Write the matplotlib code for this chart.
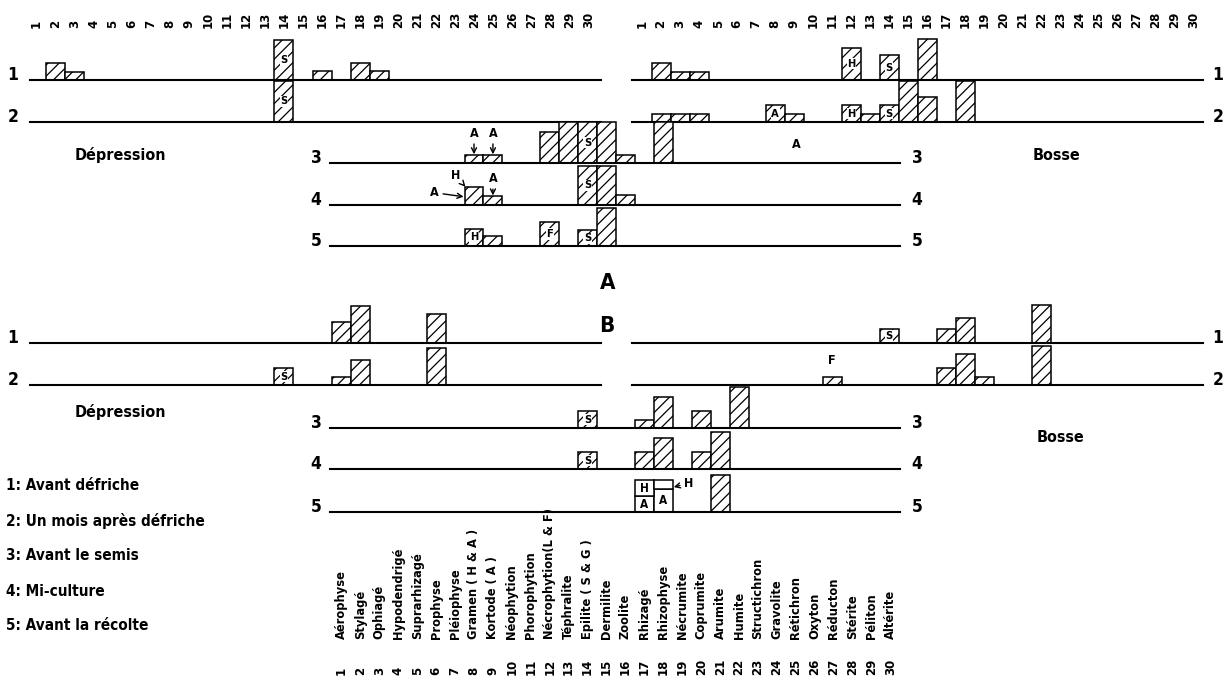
import matplotlib
matplotlib.use("Agg")
import matplotlib.pyplot as plt
from matplotlib import transforms

# noms des formes (axe du bas)
names = ["Aérophyse", "Stylagé", "Ophiagé", "Hypodendrigé", "Suprarhizagé",
         "Prophyse", "Pléiophyse", "Gramen ( H & A )", "Kortode ( A )", "Néophytion",
         "Phorophytion", "Nécrophytion(L & F)", "Téphralite", "Epilite ( S & G )", "Dermilite",
         "Zoolite", "Rhizagé", "Rhizophyse", "Nécrumite", "Coprumite",
         "Arumite", "Humite", "Structichron", "Gravolite", "Rétichron",
         "Oxyton", "Réducton", "Stérite", "Péliton", "Altérite"]
cols = list(range(1, 31))

legend_lines = ["1: Avant défriche", "2: Un mois après défriche", "3: Avant le semis",
                "4: Mi-culture", "5: Avant la récolte"]

# --- panneau A ---
a1_dep_cols = [2, 3, 14, 16, 18, 19]
a1_dep_vals = [2, 1, 4.8, 1.1, 2.1, 1.1]
a1_dep_marks = {14: "S"}
a2_dep_cols = [14]
a2_dep_vals = [5]
a2_dep_marks = {14: "S"}
a1_bos_cols = [2, 3, 4, 12, 14, 16]
a1_bos_vals = [2, 1, 1, 3.9, 3, 5]
a1_bos_marks = {12: "H", 14: "S"}
a2_bos_cols = [2, 3, 4, 8, 9, 12, 13, 14, 15, 16, 18]
a2_bos_vals = [1, 1, 1, 2, 1, 2, 1, 2, 5, 3, 5]
a2_bos_marks = {8: "A", 12: "H", 14: "S"}
a3_cols = [8, 9, 12, 13, 14, 15, 16, 18]
a3_vals = [1, 1, 3.7, 4.9, 4.9, 4.9, 1, 5]
a3_marks = {14: "S"}
a4_cols = [8, 9, 14, 15, 16]
a4_vals = [2.2, 1.1, 4.7, 4.7, 1.2]
a4_marks = {14: "S"}
a5_cols = [8, 9, 12, 14, 15]
a5_vals = [2.1, 1.2, 2.9, 1.9, 4.6]
a5_marks = {8: "H", 12: "F", 14: "S"}

# --- panneau B ---
b1_dep_cols = [17, 18, 22]
b1_dep_vals = [2.5, 4.5, 3.5]
b2_dep_cols = [14, 17, 18, 22]
b2_dep_vals = [2, 1, 3, 4.5]
b2_dep_marks = {14: "S"}
b1_bos_cols = [14, 17, 18, 22]
b1_bos_vals = [1.7, 1.7, 3, 4.6]
b1_bos_marks = {14: "S"}
b2_bos_cols = [11, 17, 18, 19, 22]
b2_bos_vals = [1, 2, 3.7, 1, 4.7]
b3_cols = [14, 17, 18, 20, 22]
b3_vals = [2, 1, 3.7, 2, 4.9]
b3_marks = {14: "S"}
b4_cols = [14, 17, 18, 20, 21]
b4_vals = [2, 2, 3.7, 2, 4.5]
b4_marks = {14: "S"}
b5_cols = [21]
b5_vals = [4.5]
b5_box_cols = [17, 18]
b5_box_low = [1.9, 2.8]
b5_box_high = [1.9, 1.0]
b5_box_low_txt = ["A", "A"]
b5_box_high_txt = ["H", ""]

W, H = 1232, 684
plt.rcParams["font.family"] = ["DejaVu Sans"]
plt.rcParams["hatch.linewidth"] = 0.9
fig = plt.figure(figsize=(W / 100, H / 100), dpi=100)

ov = fig.add_axes([0, 0, 1, 1])
ov.set_xlim(0, W)
ov.set_ylim(H, 0)
ov.axis("off")

ROW = 41.5  # hauteur d'une bande = 5 unites
LEFT = (27, 598)
RIGHT = (632.5, 1203)
MID = (332, 900)
BOLD = dict(fontweight="heavy", fontstretch="condensed")


def strip(span, base, line=(0.65, 30.65)):
    x0, x1 = span
    ax = fig.add_axes([x0 / W, 1 - base / H, (x1 - x0) / W, ROW / H])
    ax.set_xlim(0.5, 30.5)
    ax.set_ylim(0, 5)
    ax.axis("off")
    ax.plot(line, [0, 0], color="black", lw=1.5, clip_on=False)
    return ax


def bars(ax, c, v, marks=None):
    ax.bar(c, v, width=1, color="white", edgecolor="black", hatch="///",
           linewidth=1.1, clip_on=False)
    for k, m in (marks or {}).items():
        val = v[c.index(k)]
        ax.text(k, val / 2, m, ha="center", va="center", fontsize=8, color="black",
                bbox=dict(fc="white", ec="none", pad=0.4), **BOLD)


def row_label(x, base, txt):
    ov.text(x, base - 5, txt, ha="center", va="center", fontsize=12.5, **BOLD)


# panneau A
axA1L = strip(LEFT, 80)
bars(axA1L, a1_dep_cols, a1_dep_vals, a1_dep_marks)
axA2L = strip(LEFT, 122)
bars(axA2L, a2_dep_cols, a2_dep_vals, a2_dep_marks)
axA1R = strip(RIGHT, 80, (0.5, 30.5))
bars(axA1R, a1_bos_cols, a1_bos_vals, a1_bos_marks)
axA2R = strip(RIGHT, 122, (0.5, 30.5))
bars(axA2R, a2_bos_cols, a2_bos_vals, a2_bos_marks)
axA3 = strip(MID, 163, (0.4, 30.5))
bars(axA3, a3_cols, a3_vals, a3_marks)
axA4 = strip(MID, 205, (0.4, 30.5))
bars(axA4, a4_cols, a4_vals, a4_marks)
axA5 = strip(MID, 246, (0.4, 30.5))
bars(axA5, a5_cols, a5_vals, a5_marks)

# panneau B
axB1L = strip(LEFT, 343)
bars(axB1L, b1_dep_cols, b1_dep_vals)
axB2L = strip(LEFT, 385)
bars(axB2L, b2_dep_cols, b2_dep_vals, b2_dep_marks)
axB1R = strip(RIGHT, 343, (0.5, 30.5))
bars(axB1R, b1_bos_cols, b1_bos_vals, b1_bos_marks)
axB2R = strip(RIGHT, 385, (0.5, 30.5))
bars(axB2R, b2_bos_cols, b2_bos_vals)
axB3 = strip(MID, 428, (0.4, 30.5))
bars(axB3, b3_cols, b3_vals, b3_marks)
axB4 = strip(MID, 469, (0.4, 30.5))
bars(axB4, b4_cols, b4_vals, b4_marks)
axB5 = strip(MID, 512, (0.4, 30.5))
bars(axB5, b5_cols, b5_vals)
axB5.bar(b5_box_cols, b5_box_low, width=1, color="white", edgecolor="black", lw=1.1)
axB5.bar(b5_box_cols, b5_box_high, bottom=b5_box_low, width=1, color="white",
         edgecolor="black", lw=1.1)
for k, lo, hi, t1, t2 in zip(b5_box_cols, b5_box_low, b5_box_high, b5_box_low_txt, b5_box_high_txt):
    axB5.text(k, lo / 2, t1, ha="center", va="center", fontsize=8.5, **BOLD)
    axB5.text(k, lo + hi / 2, t2, ha="center", va="center", fontsize=8.5, **BOLD)

# fleches et lettres
arrow = dict(arrowstyle="->", color="black", lw=1, shrinkA=1, shrinkB=0)
ann = dict(textcoords="offset pixels", ha="center", va="center", fontsize=9,
           arrowprops=arrow, **BOLD)
axA3.annotate("A", xy=(8, 1.05), xytext=(0, 21), **ann)
axA3.annotate("A", xy=(9, 1.05), xytext=(0, 21), **ann)
axA4.annotate("H", xy=(7.55, 2.2), xytext=(-10, 11), **ann)
axA4.annotate("A", xy=(7.45, 1.0), xytext=(-29, 4), **ann)
axA4.annotate("A", xy=(9, 1.15), xytext=(0, 17), **ann)
axA5.annotate("A", xy=(9, -0.1), xytext=(0, -30), **ann)
axB5.annotate("H", xy=(18.55, 3.0), xytext=(15, 4), **ann)
axA3.text(25, 2.2, "A", ha="center", va="center", fontsize=9, **BOLD)
axB2R.text(11, 2.9, "F", ha="center", va="center", fontsize=9, **BOLD)

# etiquettes de rangs
for base, lab in [(80, "1"), (122, "2"), (343, "1"), (385, "2")]:
    row_label(13, base, lab)
    row_label(1218, base, lab)
for base, lab in [(163, "3"), (205, "4"), (246, "5"), (428, "3"), (469, "4"), (512, "5")]:
    row_label(316, base, lab)
    row_label(917, base, lab)

# numeros du haut
for ax in (axA1L, axA1R):
    tr = transforms.blended_transform_factory(ax.transData, ov.transData)
    for k in cols:
        ov.text(k, 28, str(k), rotation=90, ha="center", va="bottom", fontsize=8.5,
                transform=tr, fontweight="bold")

# noms et numeros du bas
tr = transforms.blended_transform_factory(axB5.transData, ov.transData)
for k, nm in zip(cols, names):
    ov.text(k, 639, nm, rotation=90, ha="center", va="bottom", fontsize=8.3,
            transform=tr, fontweight="bold")
    ov.text(k, 675, str(k), rotation=90, ha="center", va="bottom", fontsize=8.5,
            transform=tr, fontweight="bold")

ov.text(120, 155, "Dépression", ha="center", va="center", fontsize=11.5, **BOLD)
ov.text(1057, 155, "Bosse", ha="center", va="center", fontsize=11.5, **BOLD)
ov.text(120, 412, "Dépression", ha="center", va="center", fontsize=11.5, **BOLD)
ov.text(1060, 437, "Bosse", ha="center", va="center", fontsize=11.5, **BOLD)
ov.text(608, 283, "A", ha="center", va="center", fontsize=16, **BOLD)
ov.text(607, 326, "B", ha="center", va="center", fontsize=16, **BOLD)

for i, line in enumerate(legend_lines):
    ov.text(6, 486 + i * 35, line, ha="left", va="center", fontsize=11, **BOLD)

fig.savefig("out.png", dpi=100)
